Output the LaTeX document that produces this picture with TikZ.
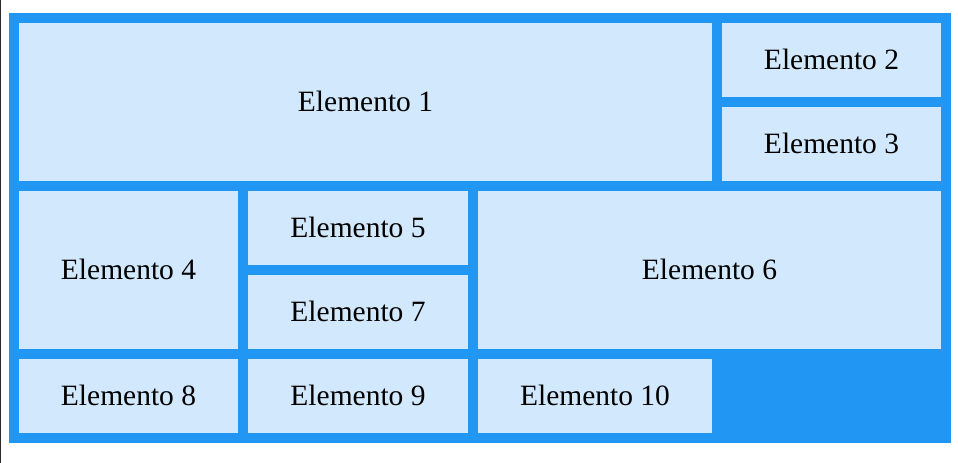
\documentclass[tikz,border=0pt]{standalone}
\usepackage{fontspec}
\setmainfont{Liberation Serif}
\usetikzlibrary{positioning}
\definecolor{gridblue}{HTML}{2196F3}
\definecolor{cellfill}{HTML}{D2E8FC}
\definecolor{edgegray}{HTML}{2B2B2B}
\begin{document}
\begin{tikzpicture}[
    x=0.75pt, y=-0.75pt,
    cell/.style={rectangle, fill=cellfill, text centered, inner sep=0pt, outer sep=0pt,
        minimum height=55.5pt, text height=14.6pt, text depth=0pt,
        font=\fontsize{22.1}{26}\selectfont},
    tall/.style={minimum height=118.5pt},
    narrow/.style={minimum width=164.25pt},
    middle/.style={minimum width=165pt}
]
\useasboundingbox (0,0) rectangle (958,463);

% Container
\fill[edgegray] (0,0) rectangle (1.3,463);
\fill[gridblue] (9,13) rectangle (950.5,443);

% Row 1
\node[cell, tall, minimum width=519.75pt] (e1) at (365.5,102) {Elemento 1};
\node[cell, narrow] (e2) at (831.5,60) {Elemento 2};
\node[cell, narrow] (e3) at (831.5,144) {Elemento 3};

% Row 2
\node[cell, tall, narrow] (e4) at (128.5,270) {Elemento 4};
\node[cell, middle] (e5) at (358,228) {Elemento 5};
\node[cell, tall, minimum width=347.25pt] (e6) at (709.5,270) {Elemento 6};
\node[cell, middle] (e7) at (358,312) {Elemento 7};

% Row 3
\node[cell, narrow] (e8) at (128.5,396) {Elemento 8};
\node[cell, middle] (e9) at (358,396) {Elemento 9};
\node[cell, minimum width=175.5pt] (e10) at (595,396) {Elemento 10};

\end{tikzpicture}
\end{document}
